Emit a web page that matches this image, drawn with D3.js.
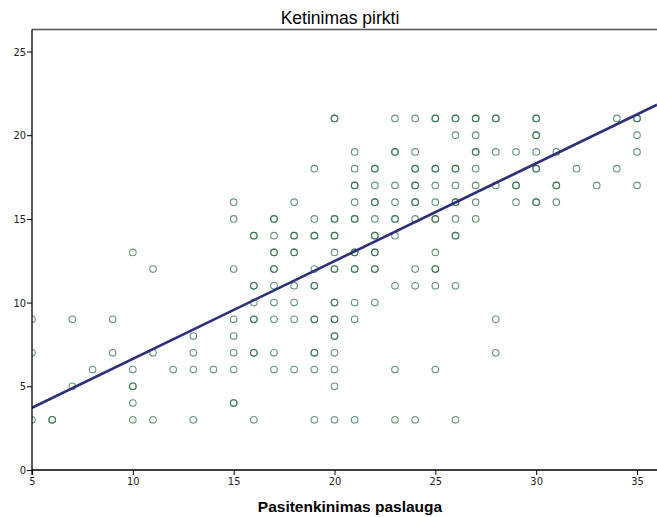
<!DOCTYPE html>
<html>
<head>
<meta charset="utf-8">
<script src="https://cdn.jsdelivr.net/npm/d3@7"></script>
<style>
  html, body { margin: 0; padding: 0; background: #fff; }
  svg { display: block; }
</style>
</head>
<body>
<svg id="chart" width="657" height="517"></svg>
<script>
// Satisfaction score (x) and the intention-to-buy scores observed at that score (y)
const satisfaction = [5, 6, 7, 8, 9, 10, 11, 12, 13, 14, 15, 16, 17, 18, 19, 20,
  21, 22, 23, 24, 25, 26, 27, 28, 29, 30, 31, 32, 33, 34, 35];
const intention = [
  [9, 7, 3], [3], [9, 5], [6], [9, 7], [13, 6, 5, 4, 3], [12, 7, 3], [6],
  [8, 7, 6, 3], [6], [16, 15, 12, 9, 8, 7, 6, 4], [14, 11, 10, 9, 7, 3],
  [15, 14, 13, 12, 11, 10, 9, 7, 6], [16, 14, 13, 11, 10, 9, 6],
  [18, 15, 14, 12, 11, 9, 7, 6, 3], [21, 15, 14, 13, 12, 10, 9, 8, 7, 6, 5, 3],
  [19, 18, 17, 16, 15, 13, 12, 10, 9, 3], [18, 17, 16, 15, 14, 13, 12, 10],
  [21, 19, 17, 16, 15, 14, 11, 6, 3], [21, 19, 18, 17, 16, 15, 12, 11, 3],
  [21, 18, 17, 16, 15, 13, 12, 11, 6], [21, 20, 18, 17, 16, 15, 14, 11, 3],
  [21, 20, 19, 18, 17, 16, 15], [21, 19, 17, 9, 7], [19, 17, 16],
  [21, 20, 19, 18, 16], [19, 17, 16], [18], [17], [21, 18], [21, 20, 19, 17]
];
// Cases that share the same (x, y) pair with another respondent
const repeatedX = [6, 10, 15, 16, 16, 16, 16, 17, 17, 17, 18, 18, 19, 19, 19, 19,
  20, 20, 20, 20, 20, 20, 20, 21, 21, 21, 21, 22, 22, 22, 22, 22, 23, 23, 24, 24, 24,
  25, 25, 25, 25, 26, 26, 26, 26, 27, 27, 28, 29, 30, 30, 30, 30, 31, 35];
const repeatedY = [3, 5, 4, 14, 11, 9, 7, 15, 13, 12, 14, 13, 14, 11, 9, 7,
  21, 15, 14, 12, 10, 9, 8, 17, 15, 13, 12, 18, 16, 14, 13, 12, 19, 15, 18, 17, 16,
  21, 18, 15, 12, 21, 18, 16, 14, 21, 19, 21, 17, 21, 20, 18, 16, 17, 21];
// Linear fit line: intention = intercept + slope * satisfaction
const fitIntercept = 0.80;
const fitSlope = 0.584;
const xTicks = [5, 10, 15, 20, 25, 30, 35];
const yTicks = [0, 5, 10, 15, 20, 25];

(function draw() {
  const svg = d3.select("#chart");
  const W = 657, H = 517;
  const plotLeft = 32, plotTop = 29.5, plotBottom = 470;

  const x = d3.scaleLinear().domain([5, 35]).range([32, 637]);
  const y = d3.scaleLinear().domain([0, 25]).range([470, 51.5]);
  const xMax = x.invert(W);

  svg.append("rect").attr("width", W).attr("height", H).attr("fill", "#fff");

  svg.append("defs").append("clipPath").attr("id", "plotClip")
    .append("rect")
    .attr("x", plotLeft).attr("y", plotTop)
    .attr("width", W - plotLeft).attr("height", plotBottom - plotTop);

  // Plot frame top edge
  svg.append("line")
    .attr("x1", plotLeft).attr("x2", W).attr("y1", plotTop).attr("y2", plotTop)
    .attr("stroke", "#555").attr("stroke-width", 1.5);

  // Points
  const points = [];
  satisfaction.forEach((sx, i) => intention[i].forEach(v => points.push([sx, v])));
  repeatedX.forEach((rx, i) => points.push([rx, repeatedY[i]]));

  const g = svg.append("g").attr("clip-path", "url(#plotClip)");
  g.selectAll("circle.pt").data(points).join("circle")
    .attr("class", "pt")
    .attr("cx", d => x(d[0]))
    .attr("cy", d => y(d[1]))
    .attr("r", 3.3)
    .attr("fill", "none")
    .attr("stroke", "#2a6e44")
    .attr("stroke-opacity", 0.72)
    .attr("stroke-width", 1.1);

  // Fit line
  g.append("line")
    .attr("x1", x(5)).attr("y1", y(fitIntercept + fitSlope * 5))
    .attr("x2", x(xMax)).attr("y2", y(fitIntercept + fitSlope * xMax))
    .attr("stroke", "#2e2f7c").attr("stroke-width", 2.6);

  // Axes
  const tickFont = "'Liberation Sans Narrow', 'DejaVu Sans Condensed', 'Liberation Sans', sans-serif";

  const xAxis = svg.append("g").attr("transform", `translate(0,${plotBottom})`)
    .call(d3.axisBottom(x).tickValues(xTicks).tickSize(5).tickSizeOuter(0).tickPadding(2));
  xAxis.select(".domain").remove();
  xAxis.append("line").attr("x1", plotLeft).attr("x2", W).attr("stroke", "#000").attr("stroke-width", 1.3);

  const yAxis = svg.append("g").attr("transform", `translate(${plotLeft},0)`)
    .call(d3.axisLeft(y).tickValues(yTicks).tickSize(5).tickSizeOuter(0).tickPadding(1));
  yAxis.select(".domain").remove();
  yAxis.append("line").attr("y1", plotTop).attr("y2", plotBottom + 5).attr("stroke", "#000").attr("stroke-width", 1.3);

  [xAxis, yAxis].forEach(a => {
    a.selectAll(".tick line").attr("stroke", "#000");
    a.selectAll(".tick text").attr("fill", "#222")
      .style("font-family", tickFont).style("font-size", "11px");
  });

  // Titles
  svg.append("text")
    .attr("x", 340).attr("y", 24)
    .attr("text-anchor", "middle")
    .style("font-family", "'Liberation Sans', Arial, sans-serif")
    .style("font-size", "17.5px")
    .text("Ketinimas pirkti");

  svg.append("text")
    .attr("x", 350).attr("y", 512)
    .attr("text-anchor", "middle")
    .style("font-family", "'Liberation Sans', Arial, sans-serif")
    .style("font-size", "15.5px")
    .style("font-weight", "bold")
    .text("Pasitenkinimas paslauga");
})();
</script>
</body>
</html>
